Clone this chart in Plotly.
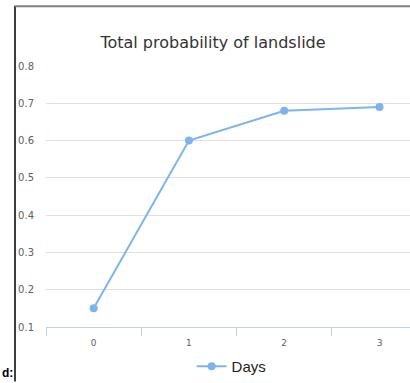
import plotly.graph_objects as go

# Series data
days = ["0", "1", "2", "3"]
probability = [0.15, 0.60, 0.68, 0.69]
y_ticks = [0.1, 0.2, 0.3, 0.4, 0.5, 0.6, 0.7, 0.8]
y_tick_labels = ["0.1", "0.2", "0.3", "0.4", "0.5", "0.6", "0.7", "0.8"]

W, H = 410, 383
ML, MR, MT, MB = 46, 0, 66, 53
PW, PH = W - ML - MR, H - MT - MB


def px_x(p):
    return (p - ML) / PW


def px_y(p):
    return (H - MB - p) / PH


fig = go.Figure()
fig.add_trace(go.Scatter(
    x=days, y=probability, mode="lines+markers", name="Days",
    line=dict(color="#7cb5ec", width=2),
    marker=dict(color="#7cb5ec", size=8),
))

fig.update_layout(
    width=W, height=H,
    margin=dict(l=ML, r=MR, t=MT, b=MB),
    paper_bgcolor="white", plot_bgcolor="white",
    font=dict(family="DejaVu Sans", color="#606060"),
    title=dict(text="Total probability of landslide", x=(213 / W), xanchor="center",
               y=1 - 42 / H, yanchor="middle",
               font=dict(size=16, color="#333333", family="DejaVu Sans")),
    showlegend=True,
    legend=dict(orientation="h", x=(164 / W), xanchor="left", y=-(370 - (H - MB)) / PH,
                yanchor="middle", font=dict(size=15, color="#222222",
                                            family="Liberation Sans")),
    xaxis=dict(type="category", range=[-0.5, 3.32], tickson="boundaries",
               ticks="outside", ticklen=8, tickcolor="#c0d0e0",
               showline=True, linecolor="#c0d0e0", linewidth=1,
               showgrid=False, zeroline=False, ticklabelstandoff=7,
               tickfont=dict(size=9, color="#606060")),
    yaxis=dict(range=[0.1, 0.8], tickvals=y_ticks, ticktext=y_tick_labels,
               showgrid=True, gridcolor="#e0e0e0", gridwidth=1,
               zeroline=False, showline=False, ticks="",
               ticklabelstandoff=11,
               tickfont=dict(size=10, color="#606060")),
)

# Frame edges around the chart
fig.add_shape(type="line", xref="paper", yref="paper",
              x0=px_x(15), x1=px_x(15), y0=px_y(5), y1=px_y(H + 2),
              line=dict(color="black", width=1.5), layer="above")
fig.add_shape(type="line", xref="paper", yref="paper",
              x0=px_x(15), x1=px_x(W + 2), y0=px_y(5.5), y1=px_y(5.5),
              line=dict(color="#808080", width=2), layer="above")

fig.add_annotation(text="<b>d:</b>", xref="paper", yref="paper",
                   x=px_x(0), xanchor="left", y=px_y(377), yanchor="middle",
                   showarrow=False, font=dict(size=12, color="black",
                                              family="Liberation Sans"))

fig.write_html("out.html")
